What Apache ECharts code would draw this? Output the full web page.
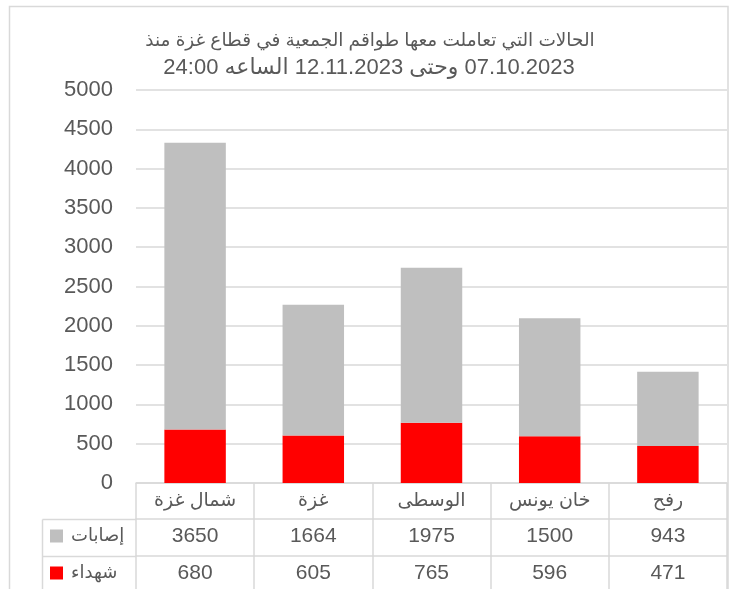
<!DOCTYPE html>
<html>
<head>
<meta charset="utf-8">
<script src="https://cdn.jsdelivr.net/npm/echarts@6/dist/echarts.min.js"></script>
<style>
  html, body { margin: 0; padding: 0; background: #fff; }
  #main { width: 729px; height: 589px; direction: rtl; }
</style>
</head>
<body>
<div id="main"></div>
<script>
// data
var categories = ['شمال غزة', 'غزة', 'الوسطى', 'خان يونس', 'رفح'];
var injuries = [3650, 1664, 1975, 1500, 943];   // إصابات
var deaths = [680, 605, 765, 596, 471];         // شهداء
var titleLines = ['الحالات التي تعاملت معها طواقم الجمعية في قطاع غزة منذ', '07.10.2023 وحتى 12.11.2023 الساعه 24:00'];
var yMin = 0, yMax = 5000, yStep = 500;

var font = '"Liberation Sans", "DejaVu Sans", Arial, sans-serif';
var txt = '#595959';
var line = '#D9D9D9';

// one table row = one extra category axis under the grid
function tableAxis(offset, values, tickLen) {
  return {
    type: 'category',
    data: categories,
    position: 'bottom',
    offset: offset,
    axisLine: { show: true, lineStyle: { color: line, width: 1.5 } },
    axisTick: { show: true, length: tickLen, lineStyle: { color: line, width: 1.5 } },
    axisLabel: {
      margin: values ? 7 : 8,
      fontSize: values ? 21 : 19,   // arabic glyphs come out wider, so smaller
      fontFamily: font,
      color: txt,
      formatter: values ? function (v, i) { return String(values[i]); } : null
    }
  };
}

var legendText = { fontSize: 18, fontFamily: font, color: txt, padding: [0, 0, 0, 3] };

var option = {
  animation: false,
  grid: { left: 136, right: 2, top: 90, bottom: 106 },
  legend: [
    { data: ['إصابات'], left: 50, top: 527, padding: 0, icon: 'rect', itemWidth: 13, itemHeight: 13, textStyle: legendText },
    { data: ['شهداء'], left: 50, top: 564, padding: 0, icon: 'rect', itemWidth: 13, itemHeight: 13, textStyle: legendText }
  ],
  xAxis: [
    tableAxis(0, null, 36),
    tableAxis(36, injuries, 37),
    tableAxis(73, deaths, 40)
  ],
  yAxis: {
    type: 'value',
    min: yMin,
    max: yMax,
    interval: yStep,
    axisLine: { show: false },
    axisTick: { show: false },
    axisLabel: { margin: 23, fontSize: 22, fontFamily: font, color: txt, formatter: function (v) { return String(v); } },
    splitLine: { lineStyle: { color: line, width: 1.5 } }
  },
  series: [
    { name: 'شهداء', type: 'bar', stack: 'all', data: deaths, barWidth: '52%', itemStyle: { color: '#FF0000' } },
    { name: 'إصابات', type: 'bar', stack: 'all', data: injuries, barWidth: '52%', itemStyle: { color: '#BFBFBF' } }
  ],
  graphic: [
    // outer chart border
    { type: 'rect', silent: true, shape: { x: 9.5, y: 6.5, width: 718.5, height: 620 },
      style: { fill: null, stroke: line, lineWidth: 1.5 }, z: -1 },
    // legend column of the table
    { type: 'line', silent: true, shape: { x1: 42.5, y1: 519.5, x2: 136, y2: 519.5 }, style: { stroke: line, lineWidth: 1.5 } },
    { type: 'line', silent: true, shape: { x1: 42.5, y1: 556.5, x2: 136, y2: 556.5 }, style: { stroke: line, lineWidth: 1.5 } },
    { type: 'line', silent: true, shape: { x1: 42.5, y1: 519.5, x2: 42.5, y2: 600 }, style: { stroke: line, lineWidth: 1.5 } },
    // title
    { type: 'text', x: 370, y: 41, silent: true,
      style: { text: titleLines[0], textAlign: 'center', textVerticalAlign: 'middle', font: '18.5px ' + font, fill: txt } },
    { type: 'text', x: 369, y: 68, silent: true,
      style: { text: titleLines[1], textAlign: 'center', textVerticalAlign: 'middle', font: '22px ' + font, fill: txt } }
  ]
};

var myChart = echarts.init(document.getElementById('main'));
myChart.setOption(option);
</script>
</body>
</html>
